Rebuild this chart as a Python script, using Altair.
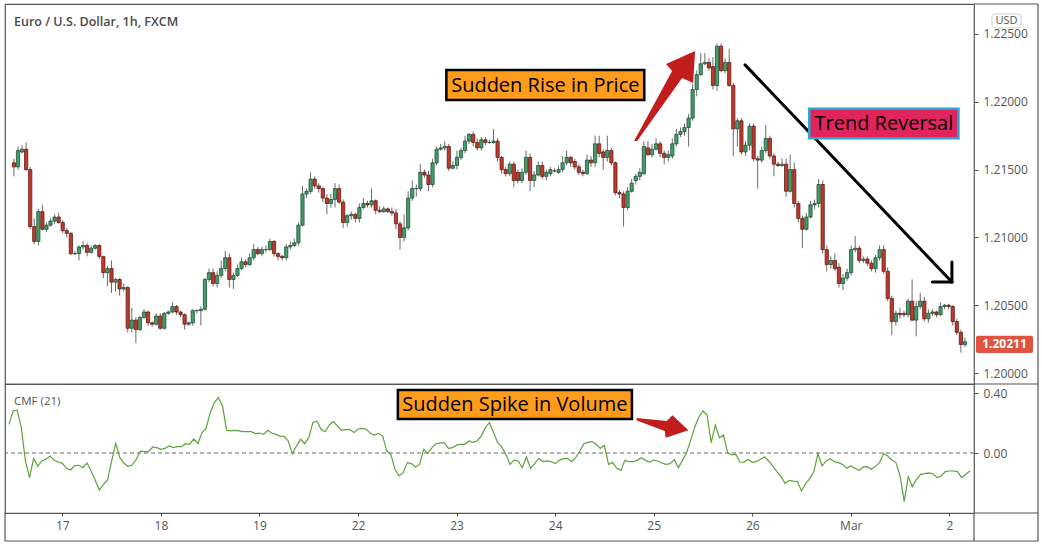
import altair as alt
import pandas as pd

# ---------------- data ----------------
# x-axis day labels and the hourly bar index where each day starts
day_ticks = [13, 37, 61, 85, 109, 133, 157, 181, 205, 229]
day_labels = ["17", "18", "19", "22", "23", "24", "25", "26", "Mar", "2"]

# EUR/USD 1h candles, values in pips above 1.20000
open_pips = [155,152,163,165,150,108,97,119,106,109,
112,115,111,105,103,88,88,93,94,89,
92,94,86,74,77,67,69,62,63,33,
39,32,41,45,37,36,42,33,44,45,
49,45,43,36,37,46,46,47,69,74,
66,72,77,85,69,72,77,82,80,85,
91,88,91,91,97,88,86,85,93,94,
96,109,132,134,143,138,136,129,125,128,
136,126,111,116,117,114,122,125,124,127,
120,119,121,119,118,110,100,107,129,136,
136,148,146,139,155,165,166,167,151,153,
159,164,171,176,170,166,172,170,170,171,
159,150,147,154,148,142,148,159,142,146,
153,145,147,149,148,150,155,159,156,152,
148,147,157,155,169,163,159,164,155,133,
132,122,134,142,145,147,166,161,165,169,
162,159,160,169,176,178,181,188,209,220,
228,229,226,212,241,223,229,212,180,186,
163,168,182,158,157,164,173,160,154,153,
154,134,150,125,114,106,115,124,125,139,
91,80,83,78,66,70,74,91,92,83,
84,81,77,85,91,75,55,38,44,44,
43,53,39,49,53,40,44,45,43,49,
50,49,38,30,21]

close_pips = [152,164,165,150,108,97,119,106,109,112,
115,111,105,103,88,88,93,94,89,92,
94,86,74,77,67,69,62,63,33,39,
32,41,45,37,36,42,33,44,45,49,
45,43,36,37,46,46,47,69,74,66,
72,77,85,69,72,77,82,80,85,91,
88,91,91,97,88,86,85,93,94,96,
109,132,134,143,138,136,129,125,128,136,
126,111,116,117,114,122,125,124,127,120,
119,121,119,118,110,100,107,129,136,136,
148,146,139,155,165,166,167,151,153,159,
164,171,176,170,166,172,170,170,171,159,
150,147,154,142,142,148,159,142,146,153,
145,148,150,149,150,155,159,155,152,148,
147,157,155,169,162,159,164,155,133,132,
122,134,140,145,148,167,161,165,169,162,
159,161,169,176,178,181,188,209,220,228,
229,225,212,241,223,229,212,180,186,163,
168,182,158,157,164,173,160,154,153,154,
134,150,125,114,106,115,124,125,139,91,
80,83,77,66,70,74,91,92,83,84,
81,77,85,91,75,55,38,44,43,43,
53,39,49,53,40,44,45,43,49,50,
49,38,30,21,23]

high_pips = [158,167,168,170,152,114,121,124,111,114,
117,118,113,107,104,90,94,97,96,94,
95,95,86,79,83,70,70,66,64,48,
41,42,47,46,38,44,44,45,46,52,
50,46,44,38,47,47,49,70,77,77,
75,83,90,88,74,80,85,84,88,95,
93,93,94,99,98,89,87,95,97,99,
111,138,136,148,145,140,137,132,132,140,
139,128,117,119,118,125,129,127,136,128,
123,123,122,122,121,112,117,134,142,139,
154,150,149,158,167,169,171,169,156,164,
166,175,177,178,173,174,174,172,180,173,
160,152,156,156,150,151,164,162,149,156,
156,150,152,151,153,160,164,160,158,154,
150,161,160,175,175,165,175,166,156,135,
134,137,143,147,151,171,171,169,173,171,
164,164,173,180,181,184,191,213,223,236,
236,232,233,243,243,232,239,214,188,188,
171,184,184,160,167,183,175,162,156,158,
158,161,155,127,116,118,127,128,143,142,
94,86,88,81,73,77,94,101,94,86,
86,83,87,94,94,78,57,46,48,46,
55,69,53,59,56,47,47,46,52,51,
51,50,40,32,26]

low_pips = [145,150,162,149,106,95,94,105,104,108,
110,110,103,100,87,87,83,91,86,88,
91,84,70,64,59,60,57,60,30,30,
22,31,40,35,34,35,32,32,43,44,
43,41,32,35,35,44,35,46,67,64,
63,70,75,63,62,71,76,78,79,83,
87,86,89,90,86,83,83,83,91,93,
94,108,129,132,136,133,126,117,122,122,
125,107,108,113,111,111,121,122,122,117,
118,118,118,116,106,91,97,105,127,130,
134,144,134,137,153,164,164,149,150,150,
157,162,169,167,164,164,168,169,169,156,
147,145,145,137,140,140,146,134,137,145,
143,142,145,148,147,148,153,152,150,146,
145,146,152,152,159,150,156,153,131,129,
108,120,133,139,142,146,160,159,164,159,
154,156,158,167,174,175,167,186,204,219,
227,223,209,208,222,221,211,160,167,161,
160,164,156,136,155,162,158,145,152,152,
130,133,122,111,92,105,114,121,122,88,
75,77,75,63,61,68,72,89,81,81,
79,75,74,83,73,53,28,35,40,41,
41,38,27,47,38,37,42,41,42,47,
47,35,28,15,19]

# Chaikin Money Flow (21), one value per bar
cmf_values = [0.191,0.280,0.287,0.169,-0.053,-0.164,-0.036,-0.087,-0.053,-0.042,
-0.020,-0.049,-0.060,-0.069,-0.102,-0.113,-0.084,-0.082,-0.098,-0.067,
-0.120,-0.182,-0.247,-0.209,-0.182,-0.053,0.064,-0.031,-0.069,-0.089,
-0.080,-0.042,0.013,0.009,0.009,0.040,0.036,0.024,0.031,0.047,
0.036,0.042,0.042,0.062,0.058,0.093,0.062,0.136,0.164,0.269,
0.336,0.369,0.313,0.151,0.147,0.151,0.147,0.142,0.142,0.142,
0.129,0.133,0.124,0.151,0.133,0.124,0.113,0.111,0.080,-0.004,
0.047,0.091,0.062,0.102,0.202,0.213,0.158,0.142,0.187,0.209,
0.180,0.151,0.156,0.156,0.136,0.160,0.164,0.158,0.131,0.120,
0.131,0.113,0.013,-0.009,-0.109,-0.153,-0.131,-0.064,-0.071,-0.093,
-0.076,0.024,-0.004,0.036,0.062,0.067,0.067,0.031,0.036,0.053,
0.058,0.058,0.080,0.071,0.080,0.113,0.169,0.202,0.136,0.069,
0.040,-0.009,-0.076,-0.047,-0.053,-0.098,
-0.027,-0.102,-0.071,-0.036,
-0.058,-0.053,-0.058,-0.071,-0.049,-0.038,-0.036,-0.058,-0.031,0.013,
0.062,0.071,0.076,0.058,0.031,0.051,-0.076,-0.064,-0.102,-0.116,
-0.049,-0.058,-0.058,-0.049,-0.031,-0.049,-0.060,-0.047,-0.053,-0.067,
-0.076,-0.071,-0.044,-0.098,-0.049,0.002,0.084,0.173,0.240,0.280,
0.253,0.069,0.187,0.102,0.120,0.002,-0.013,-0.009,-0.060,-0.062,
-0.042,-0.062,-0.058,-0.042,-0.027,-0.053,-0.087,-0.124,-0.158,-0.202,
-0.182,-0.187,-0.191,-0.253,-0.204,-0.171,-0.124,-0.004,-0.087,-0.053,
-0.038,-0.058,-0.064,-0.076,-0.102,-0.087,-0.102,-0.116,-0.093,-0.091,
-0.109,-0.089,-0.064,-0.004,-0.020,-0.047,-0.064,-0.153,-0.324,-0.158,
-0.224,-0.176,-0.142,-0.138,-0.133,-0.138,-0.164,-0.153,-0.124,-0.120,
-0.120,-0.124,-0.164,-0.142,-0.120]

price_ticks = [1.200, 1.205, 1.210, 1.215, 1.220, 1.225]
cmf_ticks = [0.40, 0.00]
last_price = 1.20211
last_price_text = "1.20211"
title_text = "Euro / U.S. Dollar, 1h, FXCM"
indicator_text = "CMF (21)"

# annotations (in data coordinates: bar index, price / CMF)
rise_box = {"x": 106.4, "x2": 155.1, "y": 1.22235, "y2": 1.22013, "text": "Sudden Rise in Price"}
trend_box = {"x": 195.7, "x2": 232.4, "y": 1.21949, "y2": 1.21731, "text": "Trend Reversal"}
spike_box = {"x": 94.7, "x2": 151.7, "y": 0.420, "y2": 0.227, "text": "Sudden Spike in Volume"}
trend_segments_x = [179.9, 230.8, 230.8]
trend_segments_y = [1.22272, 1.20671, 1.20671]
trend_segments_x2 = [230.8, 230.8, 226.0]
trend_segments_y2 = [1.20671, 1.20819, 1.20671]
arrow_price = {"x": 160.1, "y": 1.22043}
arrow_cmf = {"x": 159.2, "y": 0.177}

# ---------------- styling ----------------
FONT = "Open Sans"
AX = "#555555"
FRAME = "#555555"
UP_FILL, UP_LINE = "#449e6c", "#1f4f35"
DN_FILL, DN_LINE = "#c0392b", "#5e1c15"
WICK = "#6b6b6b"
ARROW_RED = "#c21d1d"
ORANGE = "#ff9c1c"
PINK = "#e0245e"
CYAN = "#2ba5cf"
CMF_GREEN = "#5ea33a"

ARROW1_PATH = "M-0.678,1 L0.167,-0.556 L0.033,-0.711 L0.678,-1 L0.633,-0.289 L0.389,-0.4 L-0.611,1 Z"
ARROW2_PATH = "M-1,-0.327 L0.154,-0.212 L0.373,-0.431 L0.988,0.146 L0.115,0.431 L0.077,0.173 L-1,-0.231 Z"

W = 969
H_PRICE = 380
H_CMF = 129

# ---------------- tables ----------------
def to_price(p):
    return round(1.2 + p / 10000.0, 5)

bars = pd.DataFrame({
    "bar": list(range(len(close_pips))),
    "open": [to_price(v) for v in open_pips],
    "close": [to_price(v) for v in close_pips],
    "high": [to_price(v) for v in high_pips],
    "low": [to_price(v) for v in low_pips],
})
bars["dir"] = ["up" if c >= o else "down" for o, c in zip(open_pips, close_pips)]
cmf = pd.DataFrame({"bar": list(range(len(cmf_values))), "cmf": cmf_values})
one = pd.DataFrame({"a": [0]})

xs = alt.Scale(domain=[-0.97, 235.0], nice=False, zero=False)
ys = alt.Scale(domain=[1.19919, 1.22721], nice=False, zero=False)
cs = alt.Scale(domain=[-0.40, 0.46], nice=False, zero=False)

price_axis = alt.Axis(orient="right", values=price_ticks, format=".5f", grid=False,
                      domain=False, tickSize=4, tickColor=AX, labelColor=AX,
                      labelFont=FONT, labelFontSize=12, labelPadding=5, title=None)
cmf_axis = alt.Axis(orient="right", values=cmf_ticks, format=".2f", grid=False,
                    domain=False, tickSize=4, tickColor=AX, labelColor=AX,
                    labelFont=FONT, labelFontSize=12, labelPadding=5, title=None)
label_expr = " : ".join(f"datum.value == {t} ? '{l}'" for t, l in zip(day_ticks, day_labels)) + " : ''"
x_axis = alt.Axis(values=day_ticks, labelExpr=label_expr, grid=False, domain=False,
                  tickSize=3, tickColor=AX, labelColor=AX, labelFont=FONT,
                  labelFontSize=12, labelPadding=4, title=None, labelFlush=False)

def PX(field):
    return alt.X(field, type="quantitative", scale=xs, axis=None)

def PY(field):
    return alt.Y(field, type="quantitative", scale=ys, axis=price_axis)

def CX(field):
    return alt.X(field, type="quantitative", scale=xs, axis=x_axis)

def CY(field):
    return alt.Y(field, type="quantitative", scale=cs, axis=cmf_axis)

dir_fill = alt.Color("dir:N", scale=alt.Scale(domain=["up", "down"], range=[UP_FILL, DN_FILL]), legend=None)
dir_line = alt.Stroke("dir:N", scale=alt.Scale(domain=["up", "down"], range=[UP_LINE, DN_LINE]), legend=None)

# ---------------- price panel ----------------
wicks = alt.Chart(bars).mark_rule(color=WICK, strokeWidth=1).encode(
    x=PX("bar"), y=PY("low"), y2="high")
bodies = alt.Chart(bars).mark_bar(size=3.2, strokeWidth=0.8, opacity=1).encode(
    x=PX("bar"), y=PY("open"), y2="close", color=dir_fill, stroke=dir_line)

seg = pd.DataFrame({"x": trend_segments_x, "y": trend_segments_y,
                    "x2": trend_segments_x2, "y2": trend_segments_y2})
trend_line = alt.Chart(seg).mark_rule(color="black", strokeWidth=3, strokeCap="round").encode(
    x=PX("x"), y=PY("y"), x2="x2", y2="y2")

def box_layers(b, fill, stroke, xf, yf):
    d = pd.DataFrame([{**b, "cx": (b["x"] + b["x2"]) / 2, "cy": (b["y"] + b["y2"]) / 2}])
    r = alt.Chart(d).mark_rect(fill=fill, stroke=stroke, strokeWidth=2.5).encode(
        x=xf("x"), x2="x2", y=yf("y"), y2="y2")
    t = alt.Chart(d).mark_text(font=FONT, fontSize=20, fontWeight=500, color="black",
                               align="center", baseline="middle", dy=1).encode(
        x=xf("cx"), y=yf("cy"), text="text:N")
    return r + t

rise = box_layers(rise_box, ORANGE, "black", PX, PY)
trend = box_layers(trend_box, PINK, CYAN, PX, PY)

arrow1 = alt.Chart(pd.DataFrame([arrow_price])).mark_point(
    shape=ARROW1_PATH, size=8100, filled=True, opacity=1, color=ARROW_RED, strokeWidth=0).encode(
    x=PX("x"), y=PY("y"))

title = alt.Chart(one).mark_text(text=title_text, font=FONT, fontSize=12.5, fontWeight=600,
                                 color="#4a4a4a", align="left", baseline="middle").encode(
    x=alt.value(9), y=alt.value(18))

usd_box = alt.Chart(one).mark_rect(fill="white", stroke="#cfcfcf", strokeWidth=1, cornerRadius=3).encode(
    x=alt.value(987), x2=alt.value(1016), y=alt.value(10), y2=alt.value(24))
usd_text = alt.Chart(one).mark_text(text="USD", font=FONT, fontSize=11, color=AX,
                                    align="center", baseline="middle").encode(
    x=alt.value(1001.5), y=alt.value(17))

lp = pd.DataFrame({"y": [last_price], "y_hi": [last_price + 0.00063],
                   "y_lo": [last_price - 0.00063], "t": [last_price_text]})
lp_rect = alt.Chart(lp).mark_rect(fill="#e0533f", cornerRadius=2).encode(
    x=alt.value(971), x2=alt.value(1028), y=PY("y_hi"), y2="y_lo")
lp_text = alt.Chart(lp).mark_text(font=FONT, fontSize=12, fontWeight="bold", color="white",
                                  align="center", baseline="middle").encode(
    x=alt.value(999.5), y=PY("y"), text="t:N")

price = alt.layer(wicks, bodies, trend_line, rise, trend, arrow1, title,
                  usd_box, usd_text, lp_rect, lp_text).properties(width=W, height=H_PRICE)

# ---------------- CMF panel ----------------
zero = alt.Chart(pd.DataFrame({"z": [0.0]})).mark_rule(color="#666666", strokeDash=[4, 3], strokeWidth=1).encode(
    y=CY("z"))
cmf_line = alt.Chart(cmf).mark_line(color=CMF_GREEN, strokeWidth=1.2).encode(
    x=CX("bar"), y=CY("cmf"))
spike = box_layers(spike_box, ORANGE, "black", CX, CY)
arrow2 = alt.Chart(pd.DataFrame([arrow_cmf])).mark_point(
    shape=ARROW2_PATH, size=2704, filled=True, opacity=1, color=ARROW_RED, strokeWidth=0).encode(
    x=CX("x"), y=CY("y"))
cmf_label = alt.Chart(one).mark_text(text=indicator_text, font=FONT, fontSize=11.5, color=AX,
                                     align="left", baseline="middle").encode(
    x=alt.value(9), y=alt.value(18))

frame_rules = []
for (x1, x2, y1, y2) in [
    (1033, 1033, -380, 157),   # right edge of whole frame
    (0, 1033, 157, 157),       # bottom edge
    (969, 1033, -380, -380),   # top edge over price scale
    (969, 1033, 0, 0),         # pane separator over price scale
    (969, 1033, 129, 129),     # time-axis top over price scale
    (0, 0, 129, 157),          # left edge beside time axis
    (969, 969, 129, 157),      # scale separator beside time axis
]:
    frame_rules.append(
        alt.Chart(one).mark_rule(color=FRAME, strokeWidth=1.2).encode(
            x=alt.value(x1), x2=alt.value(x2), y=alt.value(y1), y2=alt.value(y2)))

cmf_panel = alt.layer(zero, cmf_line, spike, arrow2, cmf_label, *frame_rules).properties(
    width=W, height=H_CMF)

chart = alt.vconcat(price, cmf_panel, spacing=0, bounds="flush").properties(
    padding={"left": 3, "top": 2, "right": 2, "bottom": 2}, background="white"
).configure_view(stroke=FRAME, strokeWidth=1.2)

chart.save("out.html", embed_options={"renderer": "svg", "actions": False})
